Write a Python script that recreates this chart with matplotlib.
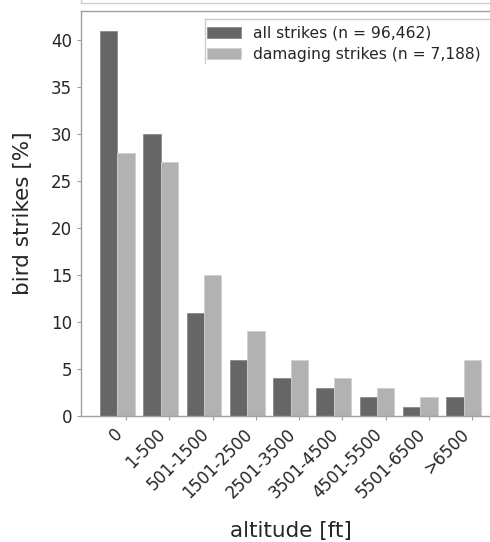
import matplotlib
matplotlib.use('Agg')
import numpy as np
import matplotlib.pyplot as plt
from matplotlib.patches import Rectangle
from matplotlib.lines import Line2D

altitude = ['0', '1-500', '501-1500', '1501-2500', '2501-3500',
            '3501-4500', '4501-5500', '5501-6500', '>6500']
all_strikes = [41, 30, 11, 6, 4, 3, 2, 1, 2]
damaging = [28, 27, 15, 9, 6, 4, 3, 2, 6]
lab_all = 'all strikes (n = 96,462)'
lab_dmg = 'damaging strikes (n = 7,188)'

DARK, LIGHT = '#666666', '#b2b2b2'
TXT, SPINE = '#262626', '#a0a0a0'

fig = plt.figure(figsize=(4.9, 5.42), dpi=100)
# axes runs past the right edge of the canvas
ax = fig.add_axes([81/490, 126/542, 419/490, 405/542])

x = np.arange(len(altitude))
w = 0.4
ax.bar(x - w, all_strikes, width=w, color=DARK, edgecolor='#8a8a8a',
       linewidth=0.6, label=lab_all)
ax.bar(x, damaging, width=w, color=LIGHT, edgecolor='#d0d0d0',
       linewidth=0.6, label=lab_dmg)

ax.set_xlim(-1.039, 8.639)
ax.set_ylim(0, 43.1)
ax.set_yticks(np.arange(0, 41, 5))
ax.set_xticks(x)
ax.set_xticklabels(altitude, rotation=45, ha='right')
ax.tick_params(labelsize=12, colors=TXT, length=3, width=0.8, color=SPINE)
for s in ax.spines.values():
    s.set_color(SPINE)
    s.set_linewidth(1.0)
ax.spines['right'].set_visible(False)

ax.set_xlabel('altitude [ft]', fontsize=15.5, color=TXT, labelpad=14)
ax.set_ylabel('bird strikes [%]', fontsize=15.5, color=TXT, labelpad=13)

leg = ax.legend(loc='upper left', bbox_to_anchor=(0.265, 1.0), fontsize=11.2,
                frameon=False, handlelength=2.2, handletextpad=0.8,
                labelspacing=0.4, borderaxespad=0.55)
for t in leg.get_texts():
    t.set_color(TXT)

# partial legend frame (top and left edges) and box edge above the axes
fig.add_artist(Line2D([205/490, 1.0], [1 - 19/542] * 2, color='#cccccc', lw=1.0))
fig.add_artist(Line2D([205/490] * 2, [1 - 19/542, 1 - 63/542], color='#cccccc', lw=1.0))
fig.add_artist(Rectangle((81/490, 1 - 3/542), 1.0, 0.1, fill=False,
                         edgecolor='#cfcfcf', lw=1.0))

fig.savefig('out.png', dpi=100)
